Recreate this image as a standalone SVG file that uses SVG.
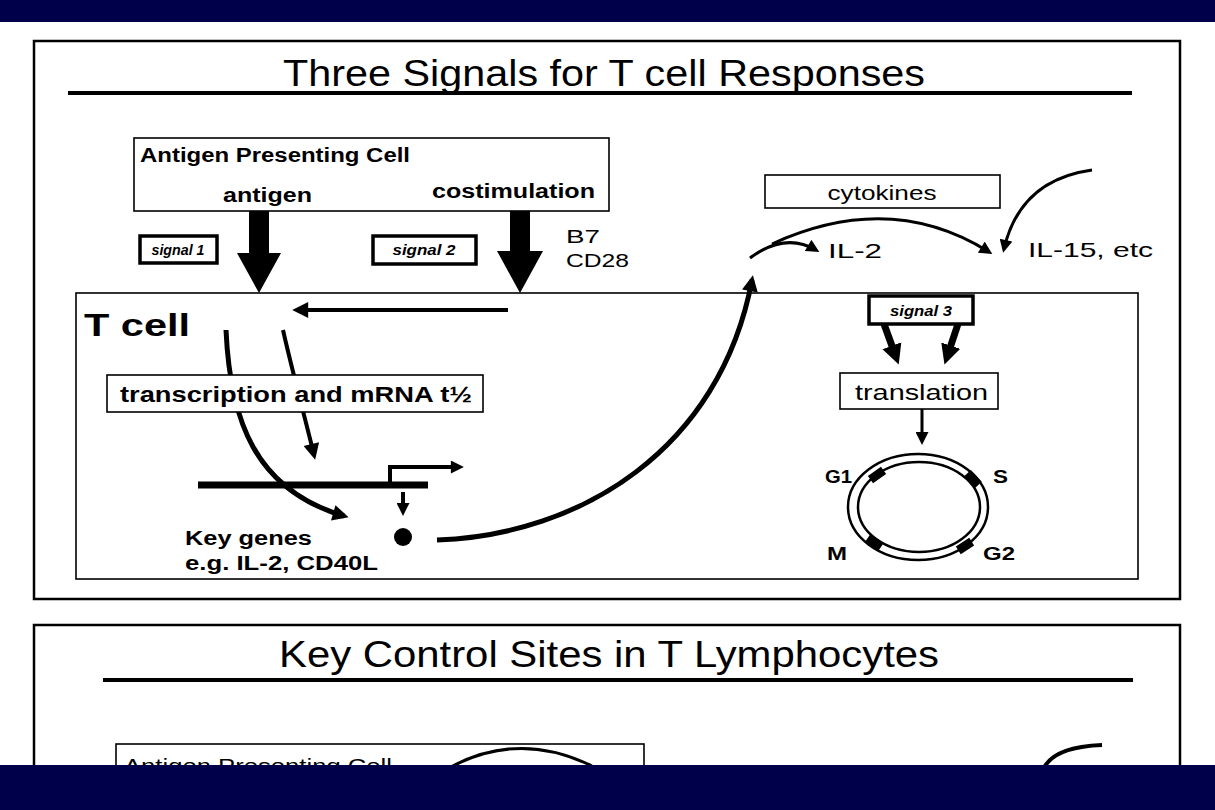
<svg xmlns="http://www.w3.org/2000/svg" width="1215" height="810" viewBox="0 0 1215 810">
<defs>
<style>
.t{font-family:"Liberation Sans",Arial,sans-serif;fill:#000}
.b{font-weight:bold}
.bi{font-weight:bold;font-style:italic}
.box{fill:#fff;stroke:#000;stroke-width:1.6}
.sig{fill:#fff;stroke:#000;stroke-width:3.5}
.ln{fill:none;stroke:#000;stroke-linecap:butt}
.band{fill:#00004a}
</style>
<marker id="ah" viewBox="0 0 10 10" refX="7" refY="5" markerWidth="18" markerHeight="16" markerUnits="userSpaceOnUse" orient="auto"><path d="M0,0 L10,5 L0,10 z" fill="#000"/></marker>
<marker id="ahs" viewBox="0 0 10 10" refX="7" refY="5" markerWidth="14" markerHeight="13" markerUnits="userSpaceOnUse" orient="auto"><path d="M0,0 L10,5 L0,10 z" fill="#000"/></marker>
<marker id="ahb" viewBox="0 0 10 10" refX="6" refY="5" markerWidth="20" markerHeight="24" markerUnits="userSpaceOnUse" orient="auto"><path d="M0,0 L10,5 L0,10 z" fill="#000"/></marker>
</defs>
<rect x="0" y="0" width="1215" height="810" fill="#fff"/>

<g id="panel1">
<rect x="34" y="41" width="1146" height="558" fill="#fff" stroke="#000" stroke-width="2.5"/>
<text class="t" x="283" y="86" font-size="37" textLength="642" lengthAdjust="spacingAndGlyphs">Three Signals for T cell Responses</text>
<line x1="68" y1="93" x2="1132" y2="93" stroke="#000" stroke-width="4"/>
</g>

<g id="tcell">
<rect x="76" y="293" width="1062" height="286" class="box"/>
<text class="t b" x="84" y="336" font-size="32" textLength="106" lengthAdjust="spacingAndGlyphs">T cell</text>
</g>

<g id="apc">
<rect x="134" y="138" width="475" height="73" class="box"/>
<text class="t b" x="140" y="162" font-size="20" textLength="270" lengthAdjust="spacingAndGlyphs">Antigen Presenting Cell</text>
<text class="t b" x="223" y="202" font-size="20" textLength="89" lengthAdjust="spacingAndGlyphs">antigen</text>
<text class="t b" x="432" y="198" font-size="20" textLength="163" lengthAdjust="spacingAndGlyphs">costimulation</text>
</g>

<g id="signal1">
<rect x="140" y="236" width="77" height="27" class="sig"/>
<text class="t bi" x="178" y="255" font-size="14" text-anchor="middle" textLength="53" lengthAdjust="spacingAndGlyphs">signal 1</text>
</g>
<g id="signal2">
<rect x="373" y="236" width="103" height="28" class="sig"/>
<text class="t bi" x="424" y="255" font-size="14" text-anchor="middle" textLength="63" lengthAdjust="spacingAndGlyphs">signal 2</text>
</g>
<g id="b7cd28">
<text class="t" x="566" y="243" font-size="19" textLength="34" lengthAdjust="spacingAndGlyphs">B7</text>
<text class="t" x="566" y="267" font-size="19" textLength="63" lengthAdjust="spacingAndGlyphs">CD28</text>
</g>

<g id="cytokines">
<rect x="765" y="175" width="235" height="33" class="box"/>
<text class="t" x="882" y="200" font-size="20" text-anchor="middle" textLength="109" lengthAdjust="spacingAndGlyphs">cytokines</text>
</g>
<g id="il2"><text class="t" x="828" y="258" font-size="21" textLength="54" lengthAdjust="spacingAndGlyphs">IL-2</text></g>
<g id="il15"><text class="t" x="1028" y="257" font-size="21" textLength="125" lengthAdjust="spacingAndGlyphs">IL-15, etc</text></g>

<g id="connectors">
<polygon points="249,211 269,211 269,253 281,253 259,293 237,253 249,253" fill="#000"/>
<polygon points="510,211 530,211 530,251 543,251 520,293 497,251 510,251" fill="#000"/>
<path class="ln" d="M508,310 H297" stroke-width="4" marker-end="url(#ah)"/>
<path class="ln" d="M226,330 C230,420 255,490 344,516" stroke-width="5" marker-end="url(#ah)"/>
<path class="ln" d="M283,330 C292,370 303,410 314,455" stroke-width="4" marker-end="url(#ah)"/>
<path class="ln" d="M390,485 V467 H460" stroke-width="4" marker-end="url(#ahs)"/>
<path class="ln" d="M403,492 V512" stroke-width="4" marker-end="url(#ahs)"/>
<path class="ln" d="M437,540 C580,535 720,450 752,280" stroke-width="5" marker-end="url(#ah)"/>
<path class="ln" d="M750,258 Q785,232 816,250" stroke-width="3" marker-end="url(#ahs)"/>
<path class="ln" d="M772,244 Q890,190 989,252" stroke-width="3" marker-end="url(#ahs)"/>
<path class="ln" d="M1092,170 Q1020,180 1004,249" stroke-width="3" marker-end="url(#ahs)"/>
<path class="ln" d="M884,324 L896,357" stroke-width="7" marker-end="url(#ahb)"/>
<path class="ln" d="M958,324 L947,357" stroke-width="7" marker-end="url(#ahb)"/>
<path class="ln" d="M922,409 V441" stroke-width="3" marker-end="url(#ahs)"/>
</g>

<g id="transcription">
<rect x="107" y="375" width="376" height="37" class="box"/>
<text class="t b" x="120" y="402" font-size="22" textLength="352" lengthAdjust="spacingAndGlyphs">transcription and mRNA t½</text>
</g>

<g id="gene">
<line x1="198" y1="485" x2="428" y2="485" stroke="#000" stroke-width="7"/>
<circle cx="403" cy="537" r="9" fill="#000"/>
<text class="t b" x="185" y="545" font-size="20" textLength="127" lengthAdjust="spacingAndGlyphs">Key genes</text>
<text class="t b" x="185" y="570" font-size="20" textLength="193" lengthAdjust="spacingAndGlyphs">e.g. IL-2, CD40L</text>
</g>

<g id="signal3">
<rect x="869" y="296" width="104" height="28" class="sig" stroke-width="4"/>
<text class="t bi" x="921" y="316" font-size="14" text-anchor="middle" textLength="62" lengthAdjust="spacingAndGlyphs">signal 3</text>
</g>

<g id="translation">
<rect x="840" y="373" width="158" height="36" class="box"/>
<text class="t" x="855" y="400" font-size="22" textLength="133" lengthAdjust="spacingAndGlyphs">translation</text>
</g>

<g id="cellcycle">
<ellipse cx="918" cy="507" rx="70" ry="53" fill="none" stroke="#000" stroke-width="2.5"/>
<ellipse cx="919" cy="507" rx="61" ry="45" fill="none" stroke="#000" stroke-width="2.5"/>
<rect x="-8" y="-4.5" width="16" height="9" fill="#000" transform="translate(877,475) rotate(-35)"/>
<rect x="-8" y="-4.5" width="16" height="9" fill="#000" transform="translate(973,479) rotate(47)"/>
<rect x="-8" y="-4.5" width="16" height="9" fill="#000" transform="translate(965,546) rotate(-33)"/>
<rect x="-8" y="-4.5" width="16" height="9" fill="#000" transform="translate(874,543) rotate(34)"/>
<text class="t b" x="825" y="483" font-size="18" textLength="27" lengthAdjust="spacingAndGlyphs">G1</text>
<text class="t b" x="993" y="483" font-size="18" textLength="15" lengthAdjust="spacingAndGlyphs">S</text>
<text class="t b" x="827" y="560" font-size="18" textLength="20" lengthAdjust="spacingAndGlyphs">M</text>
<text class="t b" x="983" y="560" font-size="18" textLength="32" lengthAdjust="spacingAndGlyphs">G2</text>
</g>

<g id="panel2">
<rect x="34" y="625" width="1146" height="200" fill="#fff" stroke="#000" stroke-width="2.5"/>
<text class="t" x="279" y="667" font-size="37" textLength="660" lengthAdjust="spacingAndGlyphs">Key Control Sites in T Lymphocytes</text>
<line x1="103" y1="680" x2="1133" y2="680" stroke="#000" stroke-width="4"/>
<rect x="116" y="744" width="528" height="70" class="box"/>
<text class="t" x="124" y="773" font-size="20" textLength="268" lengthAdjust="spacingAndGlyphs">Antigen Presenting Cell</text>
<path class="ln" d="M442,772 Q515,728 592,766" stroke-width="3"/>
<path class="ln" d="M1043,770 Q1052,747 1102,745" stroke-width="4"/>
</g>

<rect class="band" x="0" y="0" width="1215" height="22"/>
<rect class="band" x="0" y="765" width="1215" height="45"/>
</svg>
